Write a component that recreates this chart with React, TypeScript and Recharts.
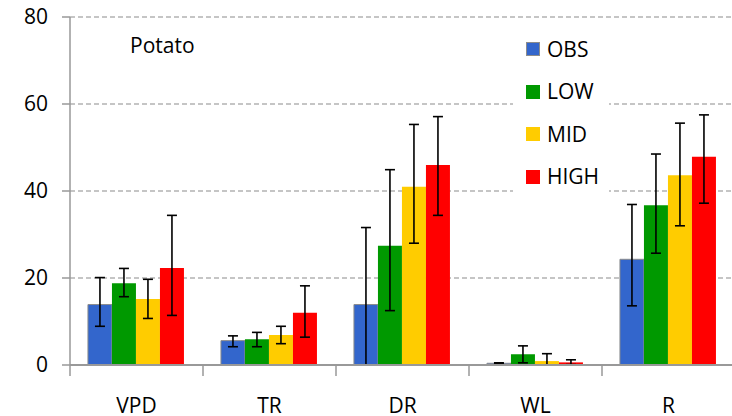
import React from 'react';
import { BarChart, Bar, XAxis, YAxis, CartesianGrid, ErrorBar, Legend } from 'recharts';

// categories and series values
const categories = ['VPD', 'TR', 'DR', 'WL', 'R'];
const obs = [13.9, 5.6, 13.9, 0.4, 24.3];
const low = [18.8, 5.9, 27.4, 2.5, 36.7];
const mid = [15.2, 6.9, 41.0, 0.9, 43.6];
const high = [22.3, 12.0, 46.0, 0.6, 47.9];

// error bars as [down, up]
const obsErr = [[5.0, 6.2], [1.4, 1.1], [13.9, 17.7], [0.1, 0.1], [10.7, 12.6]];
const lowErr = [[3.1, 3.4], [1.7, 1.6], [14.9, 17.5], [2.0, 1.9], [11.0, 11.8]];
const midErr = [[4.5, 4.5], [2.0, 2.0], [13.0, 14.3], [0.9, 1.7], [11.6, 12.0]];
const highErr = [[10.9, 12.1], [5.6, 6.2], [11.6, 11.1], [0.5, 0.6], [10.7, 9.6]];

const yTicks = [0, 20, 40, 60, 80];

const series = [
  { key: 'OBS', err: 'obsErr', color: '#3366cc', stroke: '#8c8c8c' },
  { key: 'LOW', err: 'lowErr', color: '#009900', stroke: 'none' },
  { key: 'MID', err: 'midErr', color: '#ffcc00', stroke: 'none' },
  { key: 'HIGH', err: 'highErr', color: '#ff0000', stroke: 'none' },
];

const data = categories.map((name, i) => ({
  name,
  OBS: obs[i],
  LOW: low[i],
  MID: mid[i],
  HIGH: high[i],
  obsErr: obsErr[i],
  lowErr: lowErr[i],
  midErr: midErr[i],
  highErr: highErr[i],
}));

const FONT = '"Open Sans", sans-serif';
const AXIS = '#999999';

// category label centred, with a tick mark on the left boundary of each band
const CategoryTick = (props: any) => {
  const { x, y, payload, width, visibleTicksCount } = props;
  const half = payload?.offset || (width && visibleTicksCount ? width / visibleTicksCount / 2 : 0);
  return (
    <g>
      <line x1={x - half} y1={y} x2={x - half} y2={y + 11} stroke={AXIS} strokeWidth={1.5} />
      <text x={x} y={y + 48} textAnchor="middle" fill="#000" fontSize={21} fontFamily={FONT}>
        {payload.value}
      </text>
    </g>
  );
};

const LegendBox = () => (
  <div style={{ background: '#fff', width: 96, paddingLeft: 13, boxSizing: 'border-box' }}>
    {series.map((s) => (
      <div key={s.key} style={{ display: 'flex', alignItems: 'center', height: 42.5 }}>
        <span
          style={{
            width: 14,
            height: 14,
            background: s.color,
            border: s.stroke !== 'none' ? `1px solid ${s.stroke}` : 'none',
            boxSizing: 'border-box',
            marginRight: 7,
          }}
        />
        <span style={{ fontFamily: FONT, fontSize: 21, color: '#000', lineHeight: '21px' }}>{s.key}</span>
      </div>
    ))}
  </div>
);

export default function App() {
  return (
    <div style={{ position: 'absolute', left: 0, top: 0, width: 732, height: 416, overflow: 'hidden', background: '#fff' }}>
      <BarChart
        width={740}
        height={416}
        data={data}
        margin={{ top: 17, right: 5, bottom: 0, left: 0 }}
        barCategoryGap="13.5%"
        barGap={0}
      >
        <CartesianGrid vertical={false} stroke="#8c8c8c" strokeDasharray="5 3" strokeWidth={1.2} />
        <XAxis
          dataKey="name"
          height={51}
          stroke={AXIS}
          strokeWidth={2}
          tickLine={false}
          tickSize={0}
          tickMargin={0}
          interval={0}
          tick={<CategoryTick />}
        />
        <YAxis
          width={70}
          domain={[0, 80]}
          ticks={yTicks}
          stroke={AXIS}
          strokeWidth={1.5}
          tickSize={8}
          tickMargin={14}
          tick={{ fill: '#000', fontSize: 21, fontFamily: FONT }}
        />
        <Legend
          layout="horizontal"
          verticalAlign="middle"
          align="center"
          wrapperStyle={{ left: 513, top: 28, width: 96 }}
          content={<LegendBox />}
        />
        {series.map((s) => (
          <Bar key={s.key} dataKey={s.key} fill={s.color} stroke={s.stroke} strokeWidth={1} isAnimationActive={false}>
            <ErrorBar dataKey={s.err} direction="y" width={5} stroke="#000" strokeWidth={1.6} />
          </Bar>
        ))}
      </BarChart>
      <div
        style={{
          position: 'absolute',
          left: 130,
          top: 35,
          fontFamily: FONT,
          fontSize: 21,
          lineHeight: '21px',
          color: '#000',
        }}
      >
        Potato
      </div>
    </div>
  );
}
